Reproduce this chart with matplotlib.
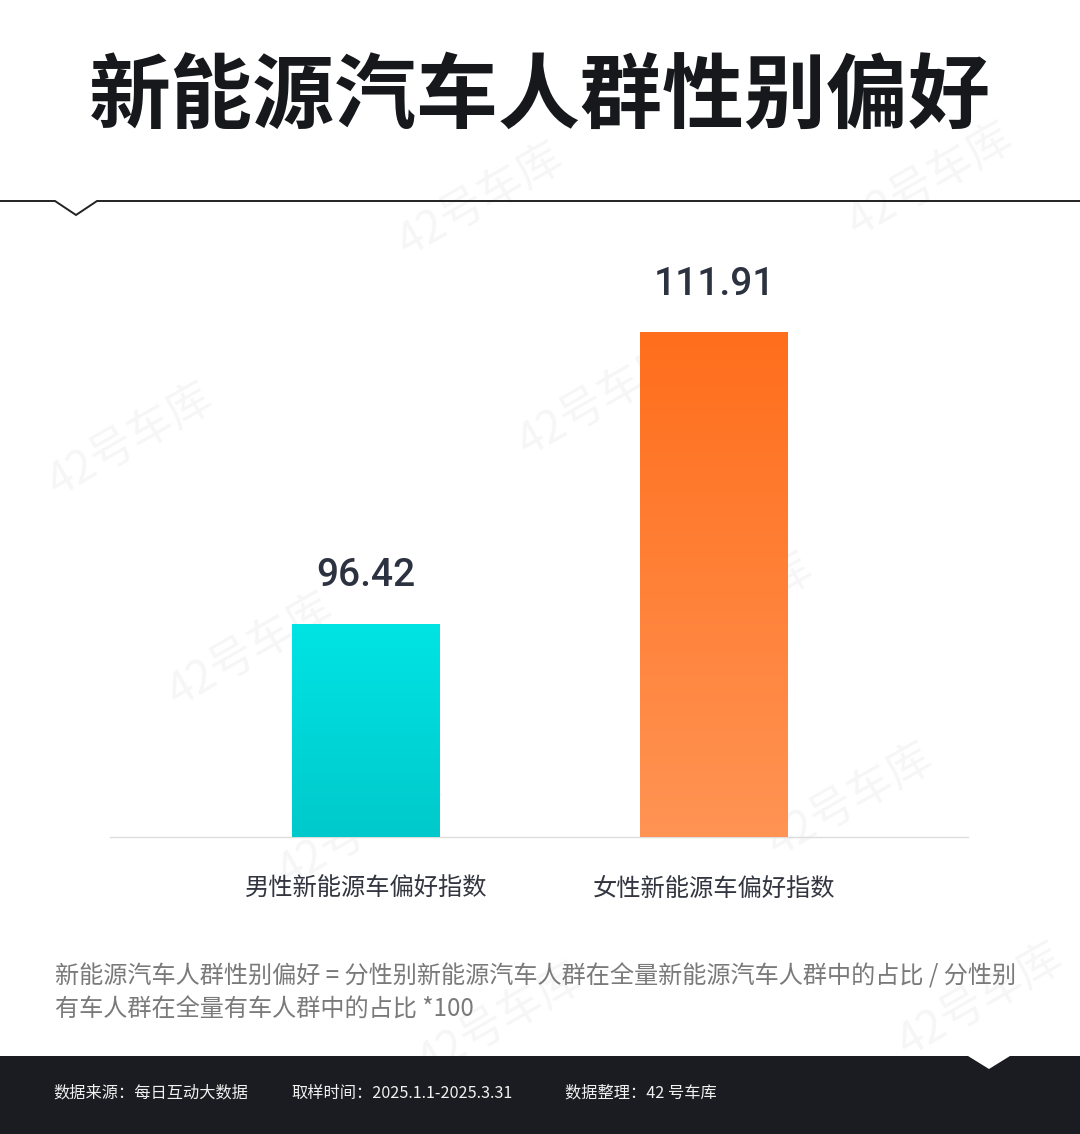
import numpy as np
import matplotlib
matplotlib.use("Agg")
import matplotlib.pyplot as plt
from matplotlib.colors import LinearSegmentedColormap
from matplotlib.patches import Polygon

plt.rcParams['font.family'] = ['Noto Sans CJK SC', 'DejaVu Sans']

# ---- data ----
title = "新能源汽车人群性别偏好"
categories = ["男性新能源车偏好指数", "女性新能源车偏好指数"]
values = [96.42, 111.91]
value_labels = ["96.42", "111.91"]
note_lines = ["新能源汽车人群性别偏好 = 分性别新能源汽车人群在全量新能源汽车人群中的占比 / 分性别",
              "有车人群在全量有车人群中的占比 *100"]
footer_items = ["数据来源：每日互动大数据", "取样时间：2025.1.1-2025.3.31", "数据整理：42 号车库"]
grad_top = ["#00E4E4", "#FF6E1C"]
grad_bottom = ["#00C9CB", "#FF9454"]

W, H = 1080, 1134
fig = plt.figure(figsize=(W / 100, H / 100), dpi=100)
fig.patch.set_facecolor("white")

# overlay axes in pixel coordinates
ov = fig.add_axes([0, 0, 1, 1], zorder=0)
ov.set_xlim(0, W)
ov.set_ylim(H, 0)
ov.axis("off")

# faint watermarks
wm_pos = [(480, 200), (130, 440), (600, 400), (250, 650), (730, 610), (360, 830), (850, 800),
          (500, 1020), (930, 180), (980, 1000)]
for (x, y) in wm_pos:
    ov.text(x, y, "42号车库", fontsize=32, color="#F6F6F6", rotation=30,
            ha="center", va="center", zorder=0)

# title
ov.text(540, 98, title, fontsize=59, weight="black", color="#16181C",
        ha="center", va="center", zorder=5)

# header line with notch
ov.plot([0, 55, 76, 97, W], [201, 201, 215, 201, 201], color="#222222", lw=1.4,
        solid_joinstyle="miter", zorder=5)

# footer band with notch
ov.add_patch(Polygon([(0, 1056), (968, 1056), (989, 1069), (1010, 1056), (W, 1056),
                      (W, H), (0, H)], closed=True, facecolor="#1A1C21", edgecolor="none", zorder=5))
for x, s in zip([53, 291, 565], footer_items):
    ov.text(x, 1093, s, fontsize=11.7, color="#F0F0F0", ha="left", va="center", zorder=6)

# note
for i, line in enumerate(note_lines):
    ov.text(55, 977 + i * 33, line, fontsize=17.4, color="#7A7A7A", ha="left",
            va="center", zorder=5)

# chart axes
x0, x1 = 110, 968
yb, yt = 837, 220
ylo = 85.12
scale = 18.85
yhi = ylo + (yb - yt) / scale
ax = fig.add_axes([x0 / W, 1 - yb / H, (x1 - x0) / W, (yb - yt) / H], zorder=2)
ax.patch.set_alpha(0)
pos = np.arange(len(values))
spacing = 348.0
bw = 148 / spacing
bars = ax.bar(pos, values, width=bw, bottom=0, color="none", edgecolor="none")
for b, v, ct, cb in zip(bars, values, grad_top, grad_bottom):
    cmap = LinearSegmentedColormap.from_list("g", [cb, ct])
    grad = np.linspace(0, 1, 256).reshape(-1, 1)
    bx = b.get_x()
    im = ax.imshow(grad, cmap=cmap, aspect="auto", origin="lower",
                   extent=[bx, bx + bw, ylo, v], zorder=3)
    im.set_clip_path(b)
for p, v, lab in zip(pos, values, value_labels):
    ax.annotate(lab, (p, v), xytext=(0, 48 * 0.72), textcoords="offset points",
                ha="center", va="center", fontsize=28, weight="medium", color="#2D3240",
                family=["Roboto", "DejaVu Sans"])
ax.set_xlim(-(366 - x0) / spacing, 1 + (x1 - 714) / spacing)
ax.set_ylim(ylo, yhi)
for s in ["top", "right", "left"]:
    ax.spines[s].set_visible(False)
ax.spines["bottom"].set_color("#DDDDDD")
ax.spines["bottom"].set_linewidth(1.0)
ax.set_yticks([])
ax.set_xticks(pos)
ax.set_xticklabels(categories, fontsize=17.5, color="#333640")
ax.tick_params(axis="x", length=0, pad=28)

fig.savefig("out.png", dpi=100, facecolor="white")
